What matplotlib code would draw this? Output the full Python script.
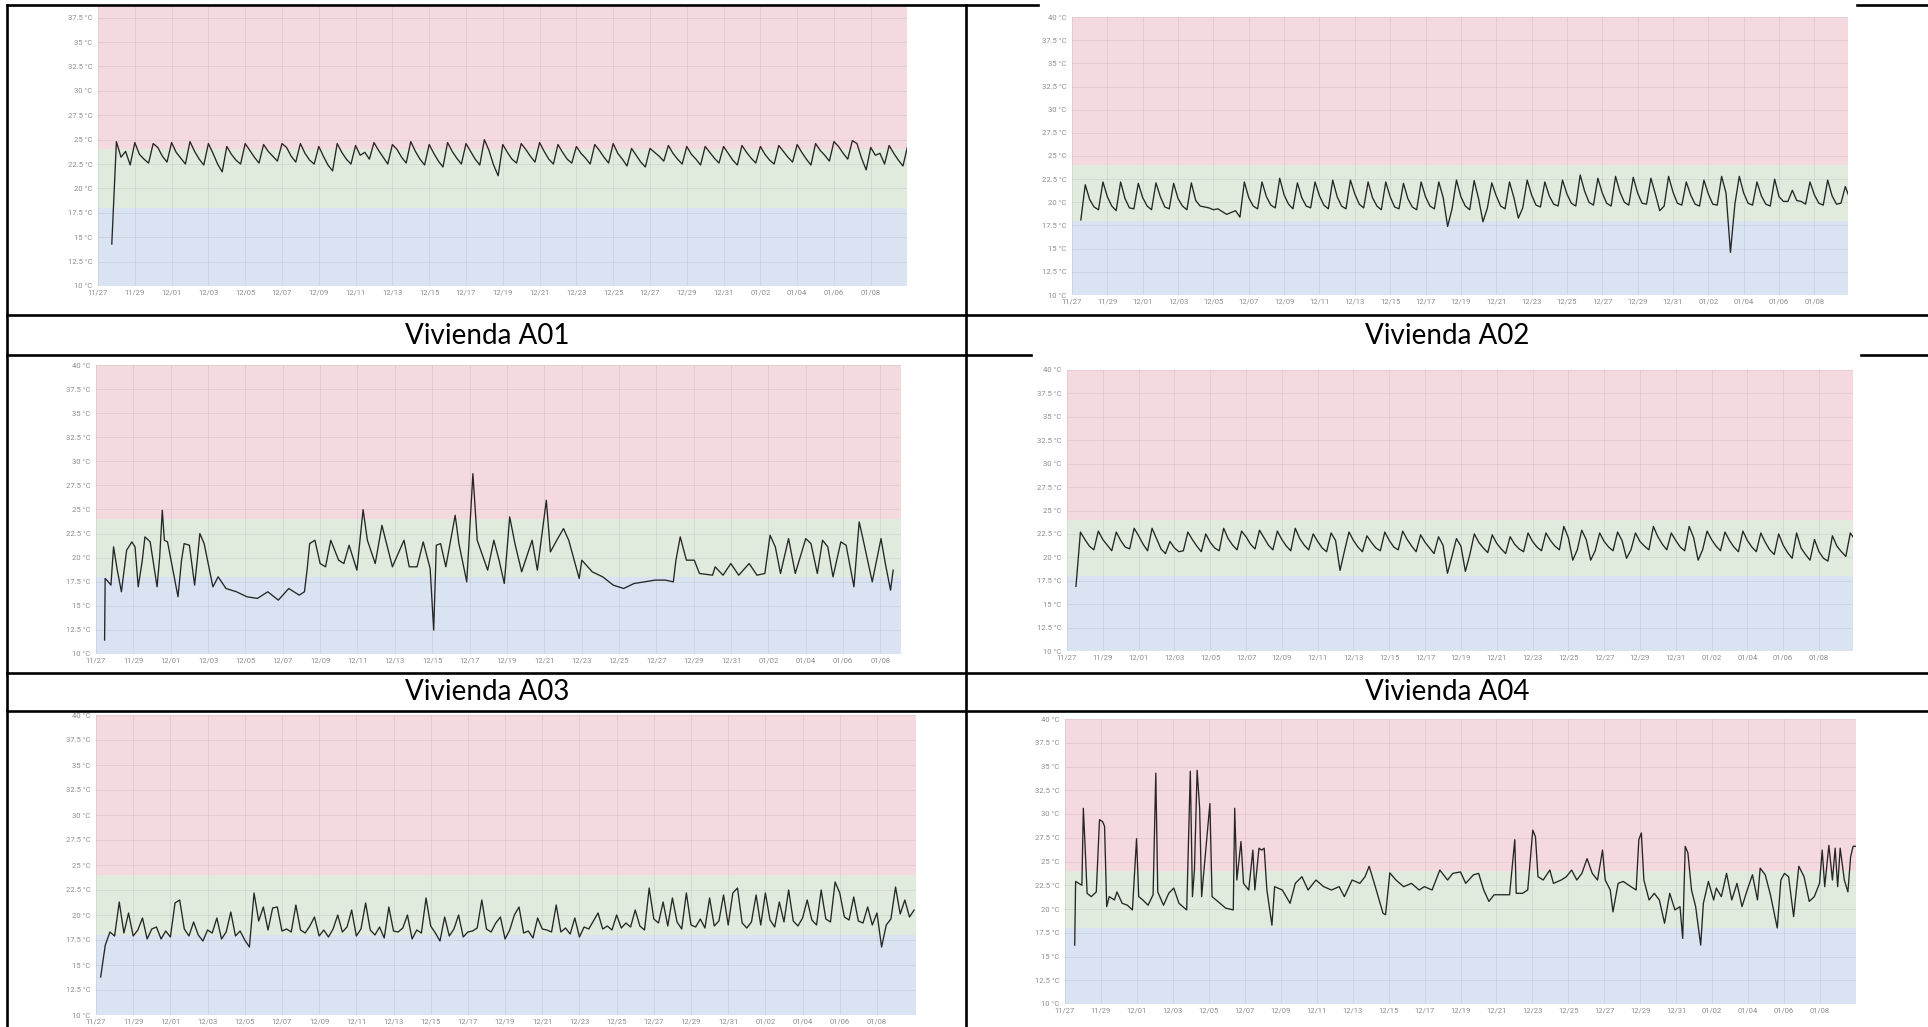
import numpy as np
import pandas as pd
import matplotlib
matplotlib.use("Agg")
import matplotlib.pyplot as plt
from matplotlib.lines import Line2D

W, H = 1928, 1027

# x axis: day 0 = 11/27 00:00, one label every two days
tick_days = np.arange(0, 43, 2)
tick_labels = pd.date_range("2021-11-27", periods=len(tick_days), freq="2D").strftime("%m/%d")

captions = ["Vivienda A01", "Vivienda A02", "Vivienda A03", "Vivienda A04"]

# comfort bands (deg C)
band_low = (10, 18)
band_ok = (18, 24)
band_high = (24, 40)

# ---- Vivienda A01: 6-hourly readings starting day 0.75
a01_start = 0.75
a01_temp = [14.3,
    24.8, 23.2, 23.8, 22.4, 24.7, 23.5, 23.0, 22.6, 24.6, 24.2, 23.3, 22.7,
    24.7, 23.7, 23.1, 22.5, 24.8, 23.8, 23.0, 22.4, 24.6, 23.6, 22.5, 21.7,
    24.3, 23.5, 22.9, 22.5, 24.6, 23.9, 23.2, 22.6, 24.5, 23.8, 23.3, 22.8,
    24.6, 24.2, 23.3, 22.7, 24.6, 23.6, 22.9, 22.5, 24.3, 23.3, 22.4, 21.8,
    24.6, 23.7, 23.0, 22.5, 24.4, 23.4, 23.7, 23.0, 24.7, 23.9, 23.2, 22.5,
    24.5, 24.0, 23.2, 22.6, 24.8, 23.8, 23.0, 22.4, 24.5, 23.6, 22.8, 22.2,
    24.7, 23.8, 23.1, 22.5, 24.6, 23.8, 23.0, 22.4, 25.0, 23.9, 22.4, 21.3,
    24.5, 23.7, 23.0, 22.6, 24.6, 24.0, 23.3, 22.7, 24.7, 23.8, 23.0, 22.5,
    24.5, 23.7, 23.0, 22.6, 24.3, 23.6, 23.1, 22.5, 24.5, 23.9, 23.2, 22.6,
    24.6, 23.6, 23.0, 22.3, 24.1, 23.4, 22.7, 22.2, 24.1, 23.7, 23.3, 22.8,
    24.4, 23.6, 23.0, 22.5, 24.3, 23.5, 23.0, 22.4, 24.3, 23.7, 23.1, 22.6,
    24.3, 23.6, 22.9, 22.4, 24.4, 23.7, 23.1, 22.6, 24.3, 23.5, 22.9, 22.5,
    24.4, 23.8, 23.2, 22.7, 24.5, 23.7, 23.0, 22.4, 24.6, 23.9, 23.4, 22.8,
    24.8, 24.3, 23.6, 23.0, 24.9, 24.6, 23.1, 21.9, 24.2, 23.4, 23.6, 22.5,
    24.4, 23.6, 22.9, 22.3, 24.3, 23.8]

# ---- Vivienda A02: 6-hourly readings starting day 0.5
a02_start = 0.5
a02_temp = [
    18.1, 21.9, 20.3, 19.5, 19.2, 22.2, 20.6, 19.6, 19.1, 22.2, 20.4, 19.4,
    19.3, 22.05, 20.5, 19.6, 19.2, 22.1, 20.6, 19.5, 19.3, 22.05, 20.4, 19.6,
    19.2, 22.1, 20.2, 19.6, 19.5, 19.4, 19.2, 19.3, 19.0, 18.7, 18.9, 19.1,
    18.4, 22.2, 20.5, 19.6, 19.3, 22.2, 20.6, 19.7, 19.4, 22.6, 20.8, 19.8,
    19.3, 22.1, 20.5, 19.6, 19.4, 22.2, 20.7, 19.7, 19.3, 22.4, 20.6, 19.6,
    19.3, 22.4, 20.9, 19.8, 19.4, 22.2, 20.5, 19.6, 19.2, 22.2, 20.6, 19.5,
    19.3, 22.05, 20.4, 19.5, 19.2, 22.2, 20.6, 19.6, 19.3, 22.2, 20.5, 17.4,
    19.3, 22.4, 20.6, 19.6, 19.2, 22.35, 20.4, 17.9, 19.4, 22.1, 20.7, 19.6,
    19.3, 22.2, 20.5, 18.3, 19.4, 22.4, 20.8, 19.7, 19.5, 22.2, 20.7, 19.8,
    19.6, 22.4, 20.9, 19.9, 19.6, 22.95, 21.2, 20.0, 19.7, 22.6, 21.0, 19.9,
    19.6, 22.8, 21.1, 20.0, 19.7, 22.7, 21.0, 19.9, 19.8, 22.6, 20.9, 19.1,
    19.6, 22.8, 21.1, 19.9, 19.7, 22.2, 20.8, 19.8, 19.6, 22.4, 20.9, 19.8,
    19.7, 22.8, 21.0, 14.6, 19.8, 22.8, 21.0, 19.9, 19.7, 22.2, 20.7, 19.8,
    19.6, 22.5, 20.6, 20.1, 20.1, 21.3, 20.2, 20.1, 19.8, 22.2, 20.8, 19.9,
    19.7, 22.4, 20.7, 19.8, 19.9, 21.7, 20.4]

# ---- Vivienda A03: irregular readings (day, temp)
a03_days = [0.46, 0.49, 0.66, 0.80, 0.94, 1.14, 1.36, 1.64, 1.92, 2.09, 2.26, 2.48, 2.62,
    2.90, 3.27, 3.41, 3.55, 3.66, 3.83, 4.39, 4.58, 4.72, 5.00, 5.28, 5.42, 5.56,
    5.79, 6.26, 6.54, 6.96, 7.52, 8.08, 8.64, 9.20, 9.76, 10.32, 10.88, 11.16, 11.30,
    11.44, 11.72, 12.00, 12.29, 12.57, 12.99, 13.27, 13.55, 13.97, 14.30, 14.53, 14.95,
    15.31, 15.51, 15.87, 16.49, 16.77, 17.19, 17.52, 17.89, 18.08, 18.22, 18.45, 18.73,
    19.23, 19.43, 19.85, 20.18, 20.41, 20.97, 21.30, 21.58, 21.86, 22.15, 22.43, 22.79,
    23.35, 23.63, 24.11, 24.33, 24.67, 25.03, 25.31, 25.87, 26.01, 26.57, 27.13, 27.69,
    28.25, 28.81, 29.37, 29.93, 30.49, 30.91, 31.05, 31.28, 31.61, 32.03, 32.31, 33.01,
    33.15, 33.57, 33.99, 34.41, 34.97, 35.39, 35.81, 36.09, 36.37, 36.65, 37.08, 37.44,
    38.00, 38.28, 38.62, 38.90, 39.18, 39.46, 39.88, 40.16, 40.58, 40.86, 41.08, 41.56,
    42.03, 42.26, 42.54, 42.68]
a03_temp = [11.45, 17.84, 17.49, 17.15, 21.12, 18.70, 16.46, 20.77, 21.64, 21.12, 16.97, 19.74, 22.16,
    21.64, 16.97, 20.08, 24.92, 21.81, 21.64, 15.94, 19.74, 21.46, 21.29, 17.15, 19.74, 22.50,
    21.46, 16.97, 18.01, 16.80, 16.46, 15.94, 15.77, 16.46, 15.59, 16.80, 16.11, 16.46, 18.70,
    21.46, 21.81, 19.39, 19.05, 21.81, 19.74, 19.39, 21.29, 18.70, 24.99, 21.81, 19.39,
    23.36, 21.81, 19.05, 21.81, 19.05, 19.05, 21.64, 18.87, 12.48, 21.29, 21.46, 19.05,
    24.40, 21.46, 17.49, 28.72, 21.81, 18.70, 21.81, 19.74, 17.32, 24.23, 21.46, 18.53,
    21.81, 18.70, 25.96, 20.60, 21.81, 23.02, 21.81, 17.84, 19.74, 18.53, 18.01, 17.15,
    16.80, 17.32, 17.49, 17.67, 17.67, 17.49, 19.74, 22.16, 19.74, 19.74, 18.36, 18.18,
    19.05, 18.18, 19.39, 18.18, 19.39, 18.18, 18.36, 22.33, 21.12, 18.36, 21.98, 18.36,
    21.98, 21.46, 18.36, 21.81, 21.12, 18.01, 21.64, 21.29, 16.97, 23.71, 21.81, 17.49,
    21.98, 19.39, 16.63, 18.70]

# ---- Vivienda A04: 6-hourly readings starting day 0.5
a04_start = 0.5
a04_temp = [
    16.9, 22.7, 21.9, 21.2, 20.8, 22.8, 21.9, 21.3, 20.7, 22.7, 21.8, 21.1,
    20.9, 23.1, 22.3, 21.4, 20.7, 23.1, 22.0, 20.9, 20.4, 21.7, 21.0, 20.6,
    20.7, 22.7, 21.9, 21.2, 20.6, 22.5, 21.6, 21.0, 20.7, 23.1, 22.0, 21.3,
    20.8, 22.8, 22.2, 21.4, 20.9, 22.9, 22.1, 21.3, 20.8, 22.8, 21.9, 21.2,
    20.7, 23.1, 22.0, 21.3, 20.8, 22.5, 21.7, 21.0, 20.6, 22.6, 21.8, 18.6,
    20.7, 22.7, 21.8, 21.1, 20.6, 22.3, 21.6, 21.0, 20.7, 22.7, 21.8, 21.1,
    20.8, 22.8, 21.9, 21.2, 20.6, 22.4, 21.6, 21.0, 20.4, 22.2, 21.3, 18.3,
    20.1, 22.0, 21.2, 18.5, 20.3, 22.5, 21.6, 21.0, 20.5, 22.4, 21.5, 20.9,
    20.4, 22.2, 21.4, 20.9, 20.6, 22.6, 21.7, 21.1, 20.7, 22.6, 21.8, 21.2,
    20.8, 23.3, 22.1, 19.7, 20.8, 22.9, 21.9, 19.7, 20.7, 22.6, 21.7, 21.1,
    20.7, 22.7, 21.8, 19.9, 20.8, 22.6, 21.7, 21.2, 20.8, 23.3, 22.2, 21.4,
    20.8, 22.6, 21.8, 21.1, 20.7, 23.3, 22.1, 19.7, 20.8, 22.8, 21.9, 21.2,
    20.7, 22.7, 21.8, 21.1, 20.6, 22.8, 21.8, 21.1, 20.6, 22.6, 21.6, 20.8,
    20.3, 22.5, 21.3, 20.5, 19.9, 22.6, 21.0, 20.3, 19.7, 21.9, 20.6, 19.9,
    19.6, 22.3, 21.2, 20.6, 20.1, 22.6, 21.9]

# ---- Vivienda A05: 6-hourly readings starting day 0.25
a05_start = 0.25
a05_temp = [
    13.8, 17.0, 18.3, 17.9, 21.3, 18.2, 20.2, 17.9, 18.5, 19.7, 17.6, 18.6,
    18.8, 17.6, 18.4, 17.8, 21.2, 21.5, 18.6, 17.9, 19.3, 18.0, 17.4, 18.5,
    18.2, 19.7, 17.6, 18.3, 20.3, 17.9, 18.4, 17.5, 16.8, 22.2, 19.4, 20.8,
    18.5, 20.7, 20.8, 18.4, 18.6, 18.3, 21.0, 18.5, 18.2, 18.9, 19.8, 17.9,
    18.5, 17.8, 18.6, 20.0, 18.3, 18.8, 20.5, 17.9, 18.6, 21.2, 18.5, 18.0,
    18.8, 17.7, 20.8, 18.4, 18.3, 18.7, 20.0, 17.6, 18.5, 18.2, 21.7, 18.9,
    18.2, 17.4, 19.8, 17.9, 18.6, 20.0, 17.8, 18.3, 18.4, 18.7, 21.5, 18.6,
    18.3, 19.2, 19.8, 17.6, 18.5, 20.0, 20.8, 18.2, 18.4, 17.7, 19.7, 18.6,
    18.5, 18.3, 21.0, 18.3, 18.7, 18.1, 19.7, 17.8, 18.8, 18.6, 19.4, 20.2,
    18.6, 18.9, 18.5, 20.0, 18.7, 19.2, 18.8, 20.5, 18.9, 18.5, 22.7, 19.6,
    19.2, 21.3, 18.9, 21.7, 19.3, 18.6, 22.2, 19.0, 18.8, 19.6, 18.7, 21.7,
    18.9, 19.4, 22.0, 19.0, 22.2, 22.7, 19.2, 18.7, 19.3, 22.0, 19.0, 22.2,
    19.5, 18.8, 21.3, 19.3, 22.5, 19.4, 18.9, 19.7, 21.5, 19.5, 19.0, 22.5,
    19.6, 19.3, 23.3, 22.2, 19.8, 19.5, 21.8, 19.4, 19.2, 20.8, 19.0, 20.2,
    16.8, 19.0, 19.6, 22.8, 20.1, 21.5, 19.8, 20.5]

# ---- Vivienda A06: irregular readings (day, temp)
a06_days = [0.54, 0.59, 0.94, 1.02, 1.11, 1.23, 1.46, 1.74, 1.92, 2.09, 2.20, 2.32, 2.46,
    2.75, 2.89, 3.18, 3.47, 3.75, 3.98, 4.10, 4.33, 4.62, 4.90, 5.05, 5.16, 5.48, 5.77,
    6.05, 6.34, 6.77, 6.97, 7.09, 7.20, 7.35, 7.49, 7.60, 8.06, 8.18, 8.50, 8.93, 9.36,
    9.44, 9.56, 9.79, 9.93, 10.22, 10.45, 10.56, 10.79, 10.94, 11.08, 11.23, 11.51, 11.66,
    12.09, 12.52, 12.81, 13.18, 13.52, 13.96, 14.39, 14.82, 15.25, 15.54, 15.97, 16.40,
    16.69, 16.92, 17.26, 17.69, 17.83, 18.07, 18.41, 18.84, 19.27, 19.70, 19.99, 20.42,
    20.85, 21.28, 21.57, 22.00, 22.29, 22.72, 23.01, 23.29, 23.58, 23.87, 24.30, 24.73,
    25.02, 25.10, 25.45, 25.74, 26.02, 26.17, 26.31, 26.60, 26.97, 27.17, 27.60, 27.89,
    28.18, 28.47, 28.75, 29.04, 29.33, 29.62, 29.90, 30.05, 30.33, 30.48, 30.77, 31.05,
    31.48, 31.77, 31.92, 32.06, 32.20, 32.49, 32.78, 33.06, 33.35, 33.64, 33.93, 34.21,
    34.36, 34.50, 34.65, 34.85, 35.08, 35.36, 35.51, 35.79, 36.08, 36.23, 36.51, 36.80,
    37.09, 37.38, 37.66, 37.95, 38.24, 38.52, 38.67, 38.95, 39.24, 39.62, 39.82, 40.02,
    40.25, 40.53, 40.82, 41.11, 41.40, 41.68, 41.97, 42.12, 42.26, 42.49, 42.69, 42.84,
    42.98, 43.12, 43.35, 43.55, 43.70, 43.84, 43.98]
a06_temp = [16.2, 22.9, 22.5, 30.6, 26.9, 21.65, 21.3, 21.8, 29.4, 29.2, 28.7, 20.25, 21.3,
    20.95, 21.8, 20.6, 20.4, 19.9, 27.4, 21.3, 20.95, 20.4, 21.5, 34.3, 21.8, 20.4, 21.65,
    22.2, 20.6, 19.9, 34.5, 21.3, 24.1, 34.6, 30.6, 21.3, 31.1, 21.3, 20.8, 20.1, 19.9,
    30.6, 23.05, 27.1, 22.7, 22.0, 26.2, 22.0, 26.4, 26.2, 26.4, 22.0, 18.3, 22.35,
    22.0, 20.6, 22.7, 23.4, 22.0, 23.05, 22.35, 22.0, 22.35, 21.3, 23.05, 22.7,
    23.4, 24.5, 22.35, 19.55, 19.4, 23.8, 23.05, 22.35, 22.7, 22.0, 22.35, 22.0,
    24.1, 23.05, 23.75, 23.9, 22.7, 23.6, 23.75, 22.0, 20.8, 21.5, 21.5, 21.5,
    27.3, 21.65, 21.65, 22.0, 28.3, 27.6, 23.4, 23.05, 24.1, 22.7, 23.05, 23.4,
    24.1, 23.05, 23.75, 25.3, 23.75, 23.05, 26.2, 23.05, 22.0, 19.7, 22.7, 22.9,
    22.35, 22.0, 27.3, 28.0, 23.05, 20.95, 21.65, 20.95, 18.5, 21.65, 19.9, 20.25,
    16.9, 26.6, 25.9, 22.0, 20.25, 16.2, 20.6, 22.9, 20.95, 22.2, 21.3, 23.75,
    20.95, 22.7, 20.25, 22.0, 23.6, 20.95, 24.3, 23.6, 21.5, 18.0, 23.05, 23.75,
    23.4, 19.2, 24.5, 23.4, 20.8, 21.3, 22.7, 26.2, 22.35, 26.7, 23.05, 26.4,
    22.35, 26.4, 23.05, 21.8, 25.5, 26.6, 26.6]

PINK = "#f4d9de"
GREEN = "#e0eadd"
BLUE = "#dae3f1"
LINE = "#262626"
LABEL = "#8c8c8c"

fig = plt.figure(figsize=(W / 100, H / 100), dpi=100)
fig.patch.set_facecolor("white")


def hline(y, x0, x1):
    fig.add_artist(Line2D([x0 / W, x1 / W], [1 - y / H, 1 - y / H],
                          transform=fig.transFigure, color="black", lw=1.9))


def vline(x, y0, y1):
    fig.add_artist(Line2D([x / W, x / W], [1 - y0 / H, 1 - y1 / H],
                          transform=fig.transFigure, color="black", lw=1.9))


# table grid (partly hidden behind the screenshots)
hline(5, 7, 1038)
hline(5, 1857, W)
hline(315, 7, W)
hline(355, 7, 1031)
hline(355, 1861, W)
hline(673, 7, W)
hline(711, 7, W)
vline(7, 5, H)
vline(966, 5, H)

for text, (cx, cy) in zip(captions, [(487, 336), (1447, 336), (487, 692), (1447, 692)]):
    fig.text(cx / W, 1 - cy / H, text, ha="center", va="center",
             fontsize=20, family="Lato", color="black")


def draw_panel(rect, xmax, ymax, days, temps):
    left, right, top, bottom = rect
    ax = fig.add_axes([left / W, 1 - bottom / H, (right - left) / W, (bottom - top) / H])
    ax.axhspan(*band_low, color=BLUE, lw=0, zorder=0)
    ax.axhspan(*band_ok, color=GREEN, lw=0, zorder=0)
    ax.axhspan(*band_high, color=PINK, lw=0, zorder=0)
    ax.plot(days, temps, color=LINE, lw=0.95, zorder=3)
    ax.set_xlim(0, xmax)
    ax.set_ylim(10, ymax)
    yt = np.arange(10, ymax + 0.01, 2.5)
    ax.set_yticks(yt, [f"{v:g} °C" for v in yt])
    ax.set_xticks(tick_days, tick_labels)
    ax.set_axisbelow(False)
    ax.grid(color="#000000", alpha=0.06, lw=0.7, zorder=1)
    for s in ax.spines.values():
        s.set_visible(False)
    ax.tick_params(length=0, labelsize=5.5, labelcolor=LABEL)
    ax.tick_params(axis="x", pad=2.5)
    ax.tick_params(axis="y", pad=4)
    for lab in ax.get_xticklabels() + ax.get_yticklabels():
        lab.set_family("Roboto")
    return ax


def regular_days(start, temps):
    return start + 0.25 * np.arange(len(temps))


draw_panel((98, 907, 5, 286), 43.97, 38.8, regular_days(a01_start, a01_temp), a01_temp)
draw_panel((1072, 1848, 17, 295), 43.9, 40, regular_days(a02_start, a02_temp), a02_temp)
draw_panel((96, 901, 365, 654), 43.1, 40, a03_days, a03_temp)
draw_panel((1067, 1853, 370, 651), 43.9, 40, regular_days(a04_start, a04_temp), a04_temp)
draw_panel((96, 916, 715, 1015), 44.1, 40, regular_days(a05_start, a05_temp), a05_temp)
draw_panel((1065, 1856, 719, 1004), 44.0, 40, a06_days, a06_temp)

fig.savefig("out.png", dpi=100, facecolor="white")
